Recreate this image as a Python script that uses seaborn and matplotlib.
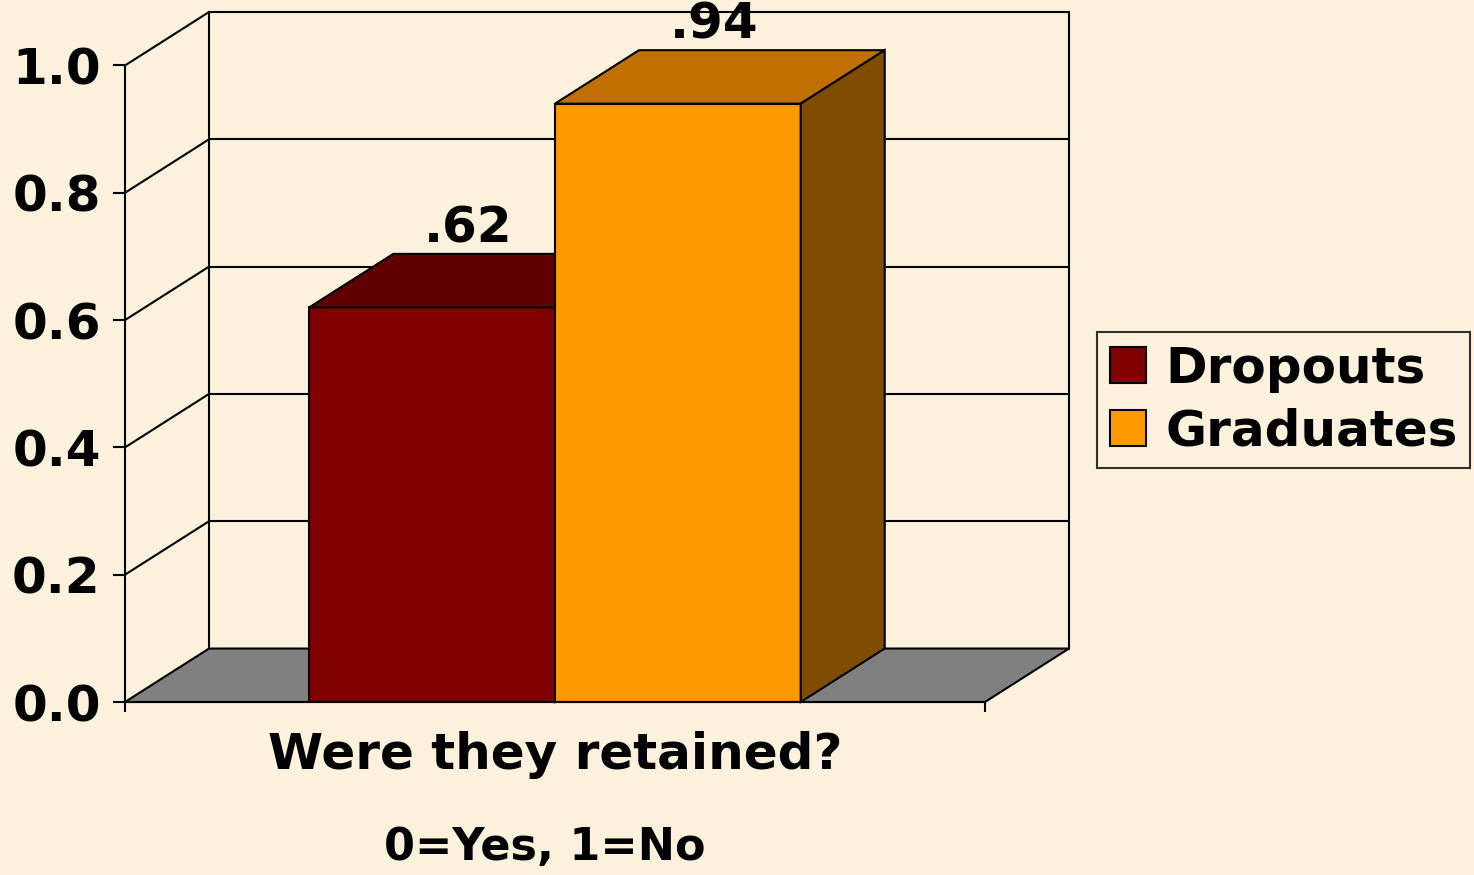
import pandas as pd
import seaborn as sns
import matplotlib.pyplot as plt
from matplotlib.patches import Polygon, Patch

# Chart data
groups = ['Dropouts', 'Graduates']
retained = [0.62, 0.94]
value_labels = ['.62', '.94']
category = 'Were they retained?'
subtitle = '0=Yes, 1=No'
y_ticks = [0.0, 0.2, 0.4, 0.6, 0.8, 1.0]
y_tick_labels = ['0.0', '0.2', '0.4', '0.6', '0.8', '1.0']

front_colors = {'Dropouts': '#800000', 'Graduates': '#FF9900'}
top_colors = {'Dropouts': '#600000', 'Graduates': '#C07000'}
side_colors = {'Dropouts': '#400000', 'Graduates': '#804C00'}
bg = '#FBF1DC'

df = pd.DataFrame({'question': [category] * len(groups), 'group': groups, 'value': retained})

sns.set_style('white')
plt.rcParams['font.family'] = ['DejaVu Sans']
plt.rcParams['font.weight'] = 'bold'
plt.rcParams['text.color'] = 'black'
plt.rcParams['axes.labelcolor'] = 'black'
plt.rcParams['xtick.color'] = 'black'
plt.rcParams['ytick.color'] = 'black'

fig = plt.figure(figsize=(14.74, 8.75), dpi=100)
fig.patch.set_facecolor(bg)

# axes placed so the front plane and the back wall line up with the reference
W, H = 1474, 875
ax = fig.add_axes([125 / W, (H - 702) / H, (1069 - 125) / W, (702 - 12) / H])
ax.set_facecolor('none')

x_left, x_right = -0.7, 0.7
DX = 0.1368  # depth offset (x, data units)
DY = 0.084   # depth offset (y, data units)
fs = 36

sns.barplot(data=df, x='question', y='value', hue='group', palette=front_colors,
            saturation=1, width=0.8, edgecolor='black', linewidth=1.5,
            legend=False, ax=ax)

ax.set_xlim(x_left, x_right + DX)
ax.set_ylim(0, 1 + DY)

# floor and walls
lw = 1.5
floor = Polygon([(x_left, 0), (x_right, 0), (x_right + DX, DY), (x_left + DX, DY)],
                closed=True, facecolor='#808080', edgecolor='black', lw=lw,
                zorder=1, clip_on=False)
ax.add_patch(floor)
for t in y_ticks[1:]:
    ax.plot([x_left, x_left + DX], [t, t + DY], color='black', lw=lw, zorder=0.5, clip_on=False)
    ax.plot([x_left + DX, x_right + DX], [t + DY, t + DY], color='black', lw=lw, zorder=0.5, clip_on=False)
ax.plot([x_left + DX, x_left + DX], [DY, 1 + DY], color='black', lw=lw, zorder=0.5, clip_on=False)
ax.plot([x_right + DX, x_right + DX], [DY, 1 + DY], color='black', lw=lw, zorder=0.5, clip_on=False)

# give the bars depth
for i, (bar, g) in enumerate(zip(ax.patches, groups)):
    z = 3 + i
    bar.set_zorder(z)
    x0 = bar.get_x()
    x1 = x0 + bar.get_width()
    v = bar.get_height()
    top = Polygon([(x0, v), (x1, v), (x1 + DX, v + DY), (x0 + DX, v + DY)], closed=True,
                  facecolor=top_colors[g], edgecolor='black', lw=lw, zorder=z, clip_on=False)
    side = Polygon([(x1, 0), (x1, v), (x1 + DX, v + DY), (x1 + DX, DY)], closed=True,
                   facecolor=side_colors[g], edgecolor='black', lw=lw, zorder=z, clip_on=False)
    ax.add_patch(top)
    ax.add_patch(side)
    ax.text(x0 + bar.get_width() / 2 + DX / 2 - 0.01, v + DY + 0.018, value_labels[i],
            ha='center', va='baseline', fontsize=fs, fontweight='bold', zorder=10)

# axes
for s in ['top', 'right']:
    ax.spines[s].set_visible(False)
ax.spines['left'].set_bounds(0, 1)
ax.spines['bottom'].set_bounds(x_left, x_right)
for s in ['left', 'bottom']:
    ax.spines[s].set_linewidth(lw)
    ax.spines[s].set_color('black')
    ax.spines[s].set_zorder(6)

ax.set_yticks(y_ticks)
ax.set_yticklabels(y_tick_labels, fontsize=fs, fontweight='bold')
ax.tick_params(axis='y', direction='out', length=8.5, width=lw, pad=9, left=True)
ax.set_xticks([0])
ax.set_xticklabels([category], fontsize=fs, fontweight='bold')
ax.tick_params(axis='x', which='major', length=0, pad=21)
ax.set_xticks([x_left, x_right], minor=True)
ax.tick_params(axis='x', which='minor', direction='out', length=7, width=lw, bottom=True)
ax.set_xlabel(subtitle, fontsize=32, fontweight='bold', labelpad=34)
ax.xaxis.label.set_x((545 - 125) / (1069 - 125))
ax.set_ylabel('')

handles = [Patch(facecolor=front_colors[g], edgecolor='black', lw=lw) for g in groups]
leg = fig.legend(handles, groups, loc='center left', bbox_to_anchor=(1097 / W, (H - 400) / H),
                 prop={'weight': 'bold', 'size': fs}, frameon=True, fancybox=False,
                 handlelength=0.72, handleheight=0.72, handletextpad=0.4,
                 labelspacing=0.3, borderpad=0.25, borderaxespad=0)
leg.get_frame().set_edgecolor('black')
leg.get_frame().set_linewidth(lw)
leg.get_frame().set_facecolor('none')

fig.savefig('out.png', dpi=100, facecolor=fig.get_facecolor())
